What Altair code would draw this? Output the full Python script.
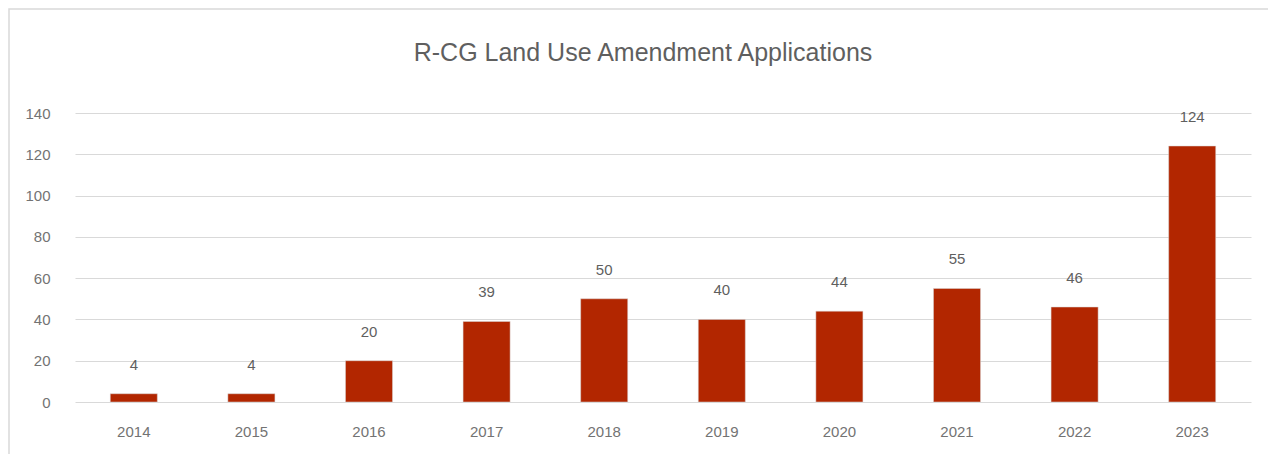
import altair as alt
import pandas as pd

years = ["2014", "2015", "2016", "2017", "2018", "2019", "2020", "2021", "2022", "2023"]
applications = [4, 4, 20, 39, 50, 40, 44, 55, 46, 124]
y_ticks = [0, 20, 40, 60, 80, 100, 120, 140]

df = pd.DataFrame({"year": years, "apps": applications})

FONT = "Liberation Sans"
GREY = "#5f5f5f"
TICK_GREY = "#737373"
BAR = "#B22600"

x_enc = alt.X("year:N", sort=years, title=None,
              scale=alt.Scale(paddingInner=0.6, paddingOuter=0.3),
              axis=alt.Axis(labelAngle=0, ticks=False, domain=False, labelPadding=22,
                            labelBaseline="top", labelFontSize=15, labelColor=TICK_GREY,
                            labelFont=FONT, grid=False))
y_enc = alt.Y("apps:Q", title=None,
              scale=alt.Scale(domain=[0, 140], nice=False),
              axis=alt.Axis(values=y_ticks, ticks=False, domain=False, labelPadding=25,
                            labelFontSize=15, labelColor=TICK_GREY, labelFont=FONT,
                            grid=True, gridColor="#d9d9d9", gridWidth=1.2))

base = alt.Chart(df)
bars = base.mark_bar(color=BAR, stroke="#d9d9d9", strokeWidth=0.5).encode(x=x_enc, y=y_enc)
labels = base.mark_text(dy=-29, baseline="middle", fontSize=15, color=GREY, font=FONT).encode(
    x=alt.X("year:N", sort=years), y=alt.Y("apps:Q"), text="apps:Q")

frame = alt.Chart(alt.Data(values=[{}])).mark_rect(
    filled=False, stroke="#d9d9d9", strokeWidth=1.5).encode(
    x=alt.value(-66), x2=alt.value(1300), y=alt.value(-104), y2=alt.value(400))

chart = alt.layer(frame, bars, labels).properties(
    width=1176, height=289,
    title=alt.TitleParams("R-CG Land Use Amendment Applications", anchor="middle",
                          fontSize=25, font=FONT, color=GREY, fontWeight="normal",
                          offset=-58, dx=-20),
    autosize=alt.AutoSizeParams(type="none"),
    padding={"left": 67, "top": 105, "right": 17, "bottom": 52},
).configure_view(stroke=None)

chart.save("out.html", embed_options={"renderer": "svg", "actions": False})
